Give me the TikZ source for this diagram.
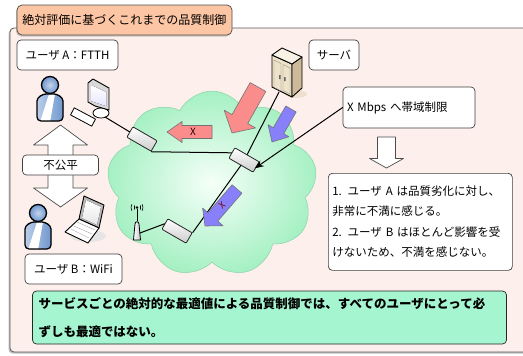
\documentclass[tikz,border=0pt]{standalone}
\usepackage{fontspec}
\setmainfont{Noto Sans CJK JP}
\usetikzlibrary{calc,arrows.meta,shapes.symbols,shadows}

\definecolor{panelpink}{RGB}{253,240,236}
\definecolor{tabpeach}{RGB}{252,197,163}
\definecolor{mintbox}{RGB}{166,245,209}
\definecolor{cloudgreen}{RGB}{165,240,195}
\definecolor{cloudcore}{RGB}{245,255,248}
\definecolor{cloudedge}{RGB}{140,210,168}
\definecolor{redarrow}{RGB}{250,140,140}
\definecolor{bluearrow}{RGB}{135,128,250}
\definecolor{userblue}{RGB}{110,150,205}
\definecolor{srvfront}{RGB}{238,226,200}
\definecolor{srvside}{RGB}{205,186,155}
\definecolor{srvtop}{RGB}{248,242,228}

\tikzset{
  tag/.style={draw=black!75, fill=white, rounded corners=4pt, line width=0.7pt},
  router/.style={draw=black!85, line width=0.8pt, minimum width=28pt, minimum height=12pt,
    inner sep=0pt, top color=white, bottom color=gray!40, rotate=-30, rounded corners=1pt,
    path picture={\fill[blue!55!black] ([shift={(2.5pt,2.5pt)}]path picture bounding box.south west) rectangle ++(10pt,2pt);}},
  link/.style={line width=1pt},
  fat/.style={draw=black!55, line width=0.6pt},
  hollow/.style={draw=black!70, fill=white, line width=0.7pt},
  usr/.style={line width=1.3pt, draw=black},
}

% block arrow: style, tail, tip, half shaft, half head, head length
\newcommand\blockarrow[6]{%
  \coordinate (ba-neck) at ($(#3)!#6!(#2)$);
  \path[#1] ($(#2)!#4!90:(#3)$) -- ($(ba-neck)!#4!90:(#3)$) -- ($(ba-neck)!#5!90:(#3)$)
    -- (#3) -- ($(ba-neck)!#5!-90:(#3)$) -- ($(ba-neck)!#4!-90:(#3)$)
    -- ($(#2)!#4!-90:(#3)$) -- cycle;
}

% user figure, head centre at #1
\newcommand\userfig[1]{%
  \begin{scope}[shift={(#1)}]
    \begin{scope}
      \clip[rounded corners=4pt] (-13,36) -- (-13,20) .. controls (-13,12) and (-7,9) .. (0,9)
        .. controls (7,9) and (13,12) .. (13,20) -- (13,36) -- cycle;
      \fill[left color=userblue!45, right color=userblue] (-14,8) rectangle (14,37);
      \fill[white] (-1,9) -- (5,9) -- (0,37) -- (-10,37) -- cycle;
    \end{scope}
    \draw[usr, rounded corners=4pt] (-13,36) -- (-13,20) .. controls (-13,12) and (-7,9) .. (0,9)
        .. controls (7,9) and (13,12) .. (13,20) -- (13,36) -- cycle;
    \draw[usr, inner color=userblue!40, outer color=userblue] (0,0) circle (8.5pt);
  \end{scope}
}

\begin{document}
\begin{tikzpicture}[x=1pt,y=-1pt,line cap=round,line join=round,font=\fontsize{11.5}{14}\selectfont]
\useasboundingbox (0,0) rectangle (523,356);
\fill[white] (0,0) rectangle (523,356);

% panel and title
\draw[draw=black!65, line width=0.8pt, fill=panelpink, rounded corners=4pt,
  drop shadow={shadow xshift=-1.5pt, shadow yshift=-1.5pt, opacity=.5}] (10,28) rectangle (532,352);
\node[draw=black!70, line width=0.7pt, fill=tabpeach, rounded corners=5pt, minimum width=215pt, minimum height=30pt,
  font=\fontsize{12}{14}\selectfont, drop shadow={shadow xshift=-1pt, shadow yshift=-1.5pt, opacity=.4}]
  (title) at (124.5,20) {絶対評価に基づくこれまでの品質制御};

% labels
\node[tag, minimum width=101pt, minimum height=30pt] (tagA) at (67.5,55) {ユーザ A：FTTH};
\node[tag, minimum width=97pt, minimum height=30pt] (tagB) at (73.5,269) {ユーザ B：WiFi};
\node[tag, minimum width=50pt, minimum height=30pt] (tagsrv) at (334,55) {サーバ};
\node[tag, minimum width=132pt, minimum height=41pt, text width=124pt, align=left] (limit) at (409,107.5) {X Mbps へ帯域制限};

% network cloud
\node[cloud, cloud puffs=9, cloud puff arc=125, minimum width=210pt, minimum height=186pt,
  inner color=cloudcore, outer color=cloudgreen, draw=cloudedge, line width=0.5pt] (net) at (212,184) {};

% server
\fill[brown!25] (296,94) ellipse [x radius=11pt, y radius=4pt];
\draw[line width=0.9pt, fill=srvfront] (272,55) -- (292,64) -- (292,97) -- (272,87) -- cycle;
\draw[line width=0.9pt, fill=srvside] (292,64) -- (302,57) -- (302,88) -- (292,97) -- cycle;
\draw[line width=0.9pt, fill=srvtop] (272,55) -- (282,48) -- (302,57) -- (292,64) -- cycle;
\draw[black!45, line width=0.4pt] (274,60) -- (281,63.5) -- (281,91) -- (274,87.5) -- cycle
  (283,64.5) -- (290,68) -- (290,94) -- (283,90.5) -- cycle;
\fill[black!60] (279,75) rectangle (280.5,79) (284,77) rectangle (285.5,81);
\coordinate (srv) at (279,92);

% user A terminal
\draw[line width=0.8pt, fill=white] (101,113) ellipse [x radius=8pt, y radius=5pt];
\draw[line width=0.9pt, fill=gray!30] (88,83) -- (93,79) -- (109,88) -- (109,110) -- (95,106) -- (88,102) -- cycle;
\fill[top color=white, bottom color=blue!10] (91,85) -- (106,92) -- (106,106) -- (91,101) -- cycle;
\draw[line width=0.8pt, fill=white, rotate around={-28:(83,117)}] (71,113) rectangle (95,121);
\coordinate (pcA) at (105,117);

% user B laptop
\fill[gray!20] (88,236) ellipse [x radius=18pt, y radius=6pt];
\draw[line width=0.9pt, fill=gray!55] (84,196) -- (104,205) -- (99,228) -- (79,219) -- cycle;
\fill[top color=white, bottom color=gray!20] (86,200) -- (101,207) -- (97,225) -- (82,218) -- cycle;
\draw[line width=0.9pt, fill=white] (79,219) -- (99,228) -- (88,243) -- (65,232) -- cycle;
\draw[gray!70, line width=0.4pt] (77,222) -- (95,230) (74,226) -- (92,234) (71,229) -- (89,238);

% antenna
\draw[line width=0.7pt] (137,221) -- (137,209);
\fill (137,207.5) circle (1.4pt);
\foreach \r in {3.5,6}{
  \draw[line width=0.6pt] (137,207.5) ++(150:\r pt) arc[start angle=150, end angle=210, radius=\r pt];
  \draw[line width=0.6pt] (137,207.5) ++(30:\r pt) arc[start angle=30, end angle=-30, radius=\r pt];
}
\draw[line width=0.8pt, left color=white, right color=gray!45] (133.5,240) -- (135,224)
  .. controls (135,221) and (139,221) .. (139,224) -- (140.5,240) -- cycle;
\coordinate (ant) at (140,233);

% routers and links
\node[router] (r1) at (142,139) {};
\node[router] (r2) at (244,160) {};
\node[router] (r3) at (177,231) {};
\draw[link] (pcA) -- (r1.west);
\draw[link] (r1.south east) -- (r2.west);
\draw[link] (r2.south) -- (r3.north east);
\draw[link] (r3.west) -- (ant);
\draw[link] (srv) -- (r2.north);

% traffic
\blockarrow{fat, fill=redarrow}{258,87}{232,133}{9pt}{18pt}{16pt}
\blockarrow{fat, fill=redarrow}{212,132}{167,132}{6.5pt}{10.5pt}{15pt}
\node[text=black!80!red, font=\fontsize{10}{12}\selectfont] (cutA) at (193,132) {X};
\blockarrow{fat, fill=bluearrow}{291,109}{272,142}{6pt}{12pt}{13pt}
\blockarrow{fat, fill=bluearrow}{237,189}{205,226}{6.5pt}{13.5pt}{12pt}
\node[text=red!50!black, rotate=40, font=\fontsize{9}{11}\selectfont] (cutB) at (222,205) {X};

\draw[link, -{Stealth[length=9pt,width=7pt]}, shorten >=-2pt] (limit.west) -- (r2.east);

% unfair double arrow
\path[hollow] (60.5,125) -- (87.5,145) -- (73,145) -- (73,188) -- (87.5,188) -- (60.5,207)
  -- (33.5,188) -- (48,188) -- (48,145) -- (33.5,145) -- cycle;
\node[tag, minimum width=76pt, minimum height=20pt, inner sep=1pt] (unfair) at (60.5,165) {不公平};

% users
\userfig{50,85}
\userfig{38,213}

% result
\blockarrow{hollow}{386.5,137}{386.5,168}{9pt}{17pt}{9.5pt}
\node[tag, anchor=north west, minimum width=184pt, minimum height=97pt, text width=176pt, inner xsep=4pt,
  align=left, font=\fontsize{11.5}{20.5}\selectfont] (verdict) at (328,173)
  {1. ユーザ A は品質劣化に対し、\\非常に不満に感じる。\\2. ユーザ B はほとんど影響を受\\けないため、不満を感じない。};

\node[draw=black!85, fill=mintbox, rounded corners=4pt, line width=0.7pt, minimum width=474pt, minimum height=53pt,
  text width=462pt, inner xsep=6pt, align=left, font=\bfseries\fontsize{12.5}{28}\selectfont] (summary) at (269.5,317.5)
  {サービスごとの絶対的な最適値による品質制御では、すべてのユーザにとって必\\ずしも最適ではない。};
\end{tikzpicture}
\end{document}
